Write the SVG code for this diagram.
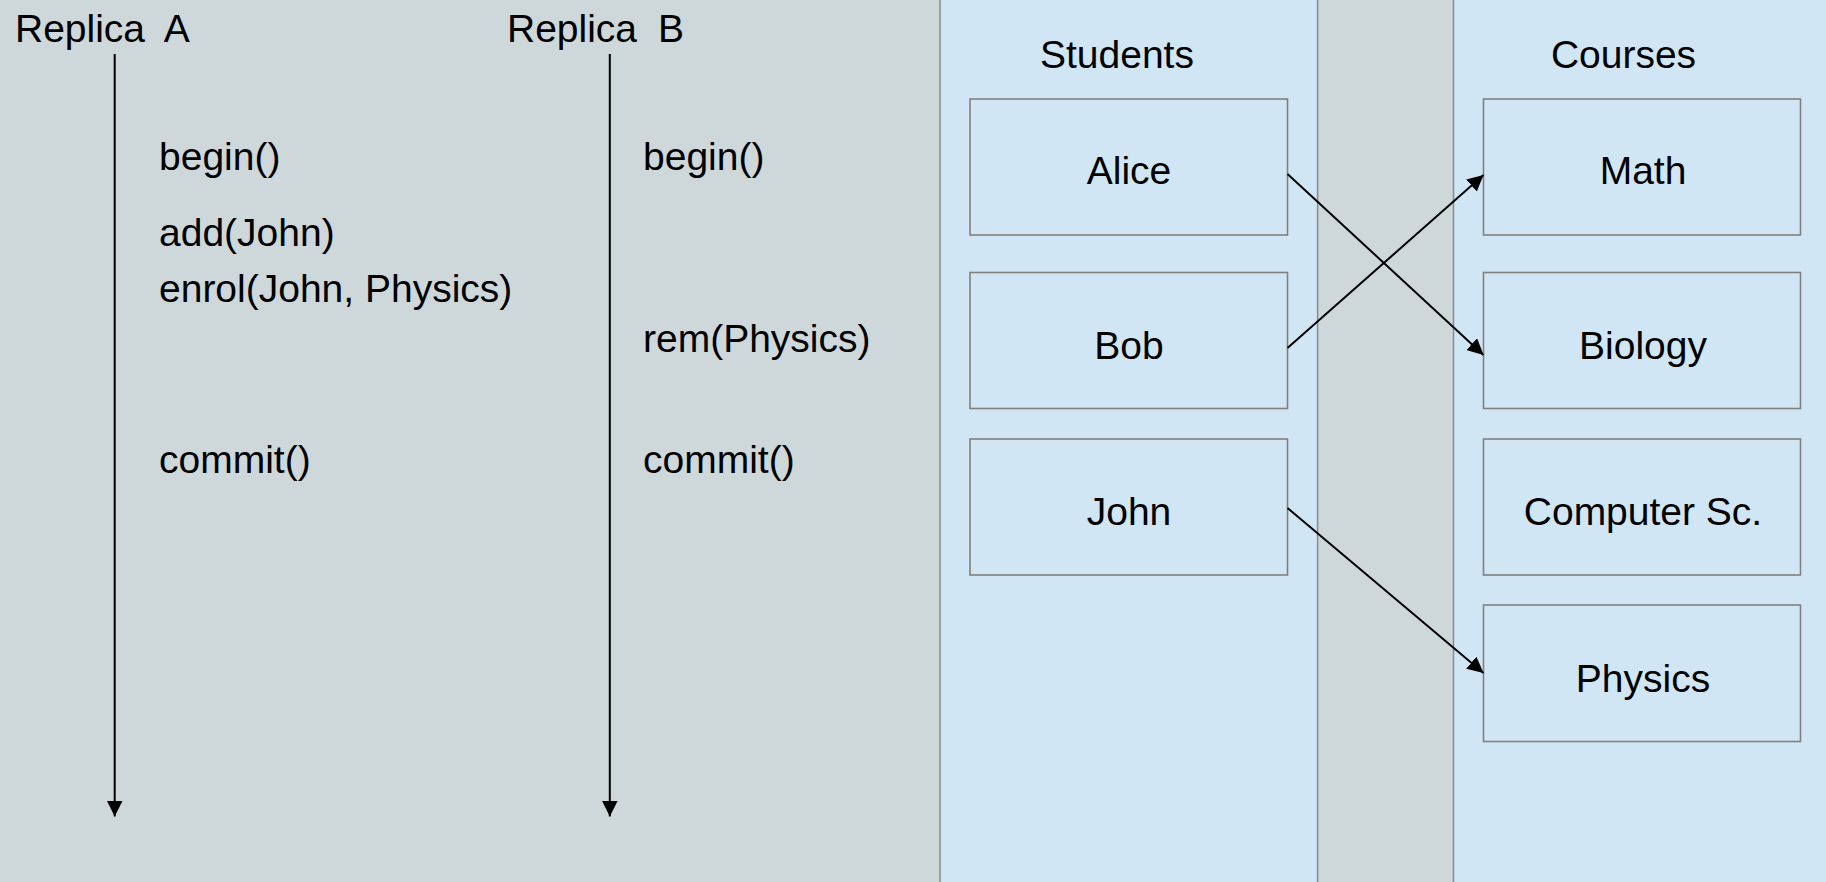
<svg xmlns="http://www.w3.org/2000/svg" width="1826" height="882" viewBox="0 0 1826 882">
<style>
text{font-family:"Liberation Sans",Arial,sans-serif;font-size:39px;fill:#000}
.lbl{text-anchor:middle}
.ttl{word-spacing:10px}
.box{fill:#D0E6F4;stroke:#808080;stroke-width:1.6}
.panel{fill:#D0E6F4;stroke:#8A8A8A;stroke-width:1.5}
.conn{stroke:#000;stroke-width:2;fill:none}
</style>
<defs>
<marker id="ah2" viewBox="0 0 10 10" refX="10" refY="5" markerWidth="16" markerHeight="16" markerUnits="userSpaceOnUse" orient="auto">
<path d="M0,0 L10,5 L0,10 z" fill="#000"/>
</marker>
</defs>
<rect x="0" y="0" width="1826" height="882" fill="#CED7DA"/>
<rect class="panel" x="940" y="-2" width="377.6" height="886"/>
<rect class="panel" x="1453.5" y="-2" width="380" height="886"/>

<g id="replicaA">
<text class="ttl" x="15" y="42">Replica A</text>
<text x="159" y="170">begin()</text>
<text x="159" y="246">add(John)</text>
<text x="159" y="301.5">enrol(John, Physics)</text>
<text x="159" y="472.5">commit()</text>
</g>
<g id="replicaB">
<text class="ttl" x="507" y="42">Replica B</text>
<text x="643" y="170">begin()</text>
<text x="643" y="351.5">rem(Physics)</text>
<text x="643" y="472.5">commit()</text>
</g>

<g id="students-title"><text class="lbl" x="1117" y="68">Students</text></g>
<g id="courses-title"><text class="lbl" x="1623.5" y="68">Courses</text></g>

<g id="alice"><rect class="box" x="970" y="99" width="317.5" height="136"/><text class="lbl" x="1129" y="184.3">Alice</text></g>
<g id="bob"><rect class="box" x="970" y="272.5" width="317.5" height="136"/><text class="lbl" x="1129" y="358.6">Bob</text></g>
<g id="john"><rect class="box" x="970" y="439" width="317.5" height="136"/><text class="lbl" x="1129" y="525.3">John</text></g>

<g id="math"><rect class="box" x="1483.5" y="99" width="317" height="136"/><text class="lbl" x="1643" y="184.3">Math</text></g>
<g id="biology"><rect class="box" x="1483.5" y="272.5" width="317" height="136"/><text class="lbl" x="1643" y="358.6">Biology</text></g>
<g id="compsc"><rect class="box" x="1483.5" y="439" width="317" height="136"/><text class="lbl" x="1643" y="525.3">Computer Sc.</text></g>
<g id="physics"><rect class="box" x="1483.5" y="605" width="317" height="136.5"/><text class="lbl" x="1643" y="691.6">Physics</text></g>

<g id="connectors">
<line class="conn" x1="114.7" y1="54" x2="114.7" y2="816.5" marker-end="url(#ah2)"/>
<line class="conn" x1="609.8" y1="54" x2="609.8" y2="816.5" marker-end="url(#ah2)"/>
<line class="conn" x1="1287.5" y1="174" x2="1483.5" y2="355" marker-end="url(#ah2)"/>
<line class="conn" x1="1287.5" y1="348" x2="1483.5" y2="175" marker-end="url(#ah2)"/>
<line class="conn" x1="1287.5" y1="508" x2="1483.5" y2="673" marker-end="url(#ah2)"/>
</g>
</svg>
